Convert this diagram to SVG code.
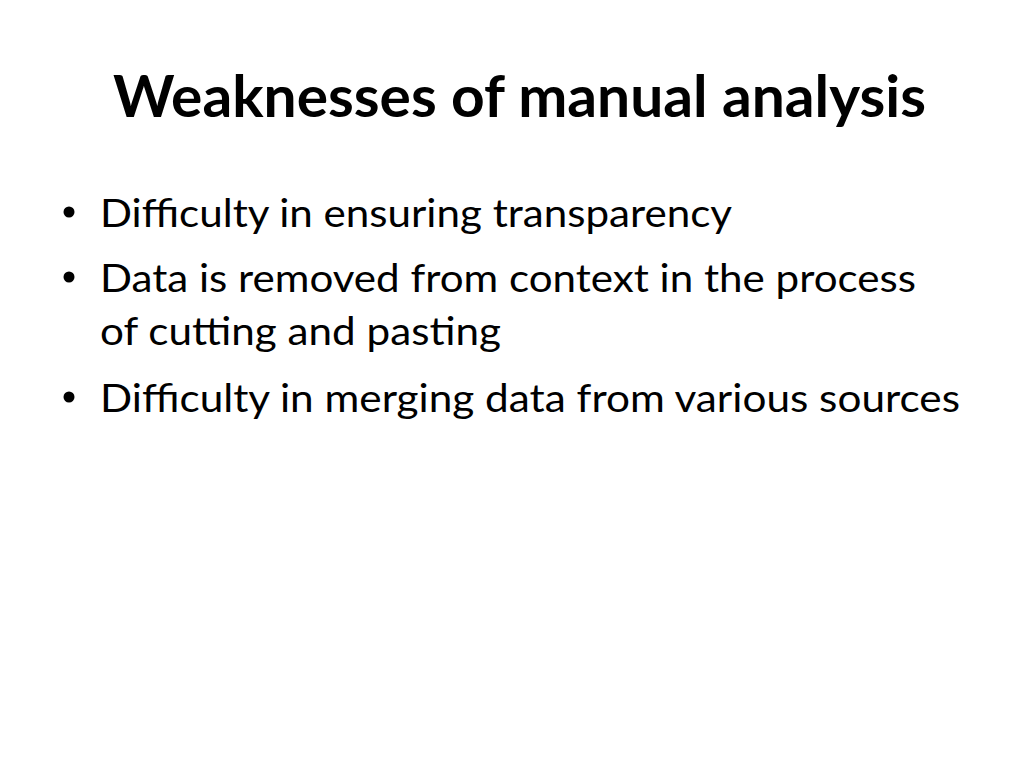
<svg xmlns="http://www.w3.org/2000/svg" width="1024" height="768" viewBox="0 0 1024 768">
<style>
.t{font-family:Lato,"Open Sans","Liberation Sans",sans-serif;fill:#000}
.title{font-size:58px;font-weight:bold}
.b{font-size:39px}
.dot{fill:#000}
</style>
<rect width="1024" height="768" fill="#fff"/>
<g id="title">
<text class="t title" x="113" y="117" textLength="813" lengthAdjust="spacingAndGlyphs">Weaknesses of manual analysis</text>
</g>
<g id="bullets">
<circle class="dot" cx="69" cy="212" r="5.5"/>
<text class="t b" x="100" y="227" textLength="632" lengthAdjust="spacingAndGlyphs">Difficulty in ensuring transparency</text>
<circle class="dot" cx="69" cy="277" r="5.5"/>
<text class="t b" x="100" y="292" textLength="816" lengthAdjust="spacingAndGlyphs">Data is removed from context in the process</text>
<text class="t b" x="100" y="345" textLength="401" lengthAdjust="spacingAndGlyphs">of cutting and pasting</text>
<circle class="dot" cx="69" cy="397" r="5.5"/>
<text class="t b" x="100" y="412" textLength="860" lengthAdjust="spacingAndGlyphs">Difficulty in merging data from various sources</text>
</g>
</svg>
